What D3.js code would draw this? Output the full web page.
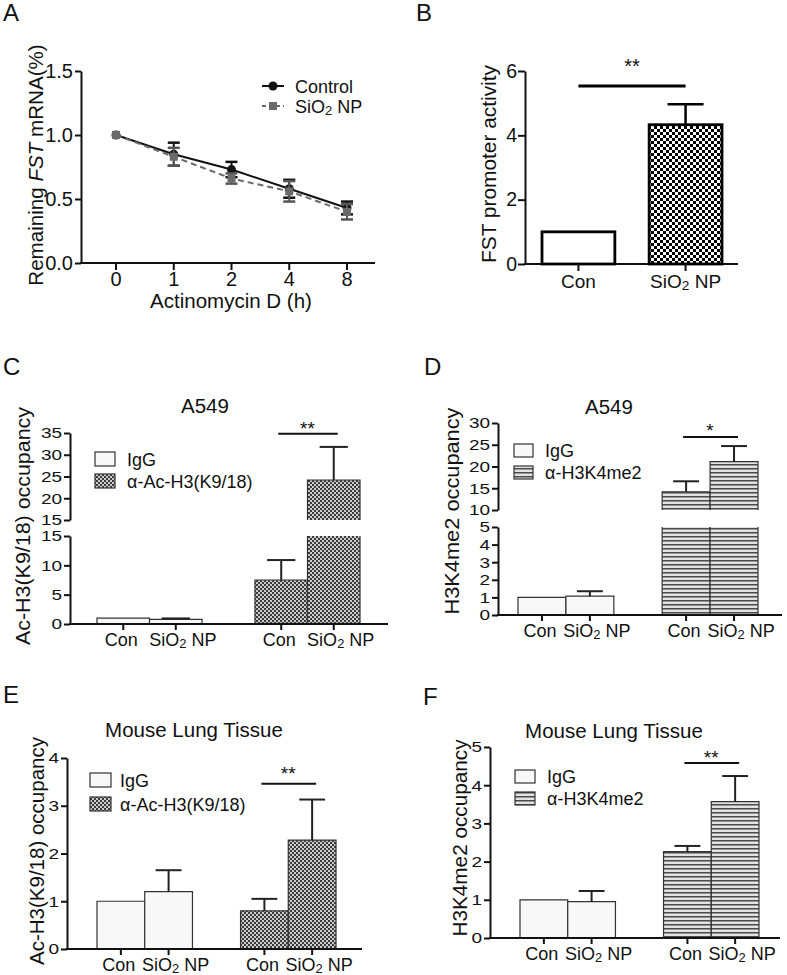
<!DOCTYPE html>
<html><head><meta charset="utf-8">
<script src="https://cdn.jsdelivr.net/npm/d3@7"></script>
<style>body{margin:0;background:#fff}</style>
</head><body><script>
// ---------------- DATA ----------------
const hours = ["0","1","2","4","8"];
const controlMean = [1.0, 0.85, 0.73, 0.58, 0.43];
const controlErr  = [0, 0.09, 0.06, 0.07, 0.05];
const sio2Mean    = [1.0, 0.83, 0.66, 0.56, 0.40];
const sio2Err     = [0, 0.07, 0.04, 0.08, 0.06];
const seriesNames = ["Control", "SiO2 NP"];

const promoterGroups = ["Con", "SiO2 NP"];
const promoterMean = [1.0, 4.33];
const promoterErr  = [0, 0.64];

const treatments = ["Con", "SiO2 NP"];
const legendAc = ["IgG", "α-Ac-H3(K9/18)"];
const legendMe = ["IgG", "α-H3K4me2"];
const antibodyGroups = ["IgG", "anti"];

const a549AcMean = [[1.0, 0.8], [7.5, 24.2]];
const a549AcErr  = [[0, 0.15], [3.4, 7.6]];
const a549MeMean = [[1.0, 1.07], [14.2, 21.1]];
const a549MeErr  = [[0, 0.28], [2.4, 3.6]];
const lungAcMean = [[1.0, 1.2], [0.8, 2.28]];
const lungAcErr  = [[0, 0.45], [0.25, 0.85]];
const lungMeMean = [[1.0, 0.95], [2.26, 3.57]];
const lungMeErr  = [[0, 0.28], [0.15, 0.67]];

const sigLevels = {B: 5.53, C: 34.8, D: 26.8, E: 3.46, F: 4.58};
const sigMarks  = {B: "**", C: "**", D: "*", E: "**", F: "**"};

const ticksA = [0, 0.5, 1.0, 1.5];
const ticksB = [0, 2, 4, 6];
const ticksCLow = [0, 5, 10, 15], ticksCHigh = [15, 20, 25, 30, 35];
const ticksDLow = [0, 1, 2, 3, 4, 5], ticksDHigh = [10, 15, 20, 25, 30];
const ticksE = [0, 1, 2, 3, 4];
const ticksF = [0, 1, 2, 3, 4, 5];

// ---------------- SETUP ----------------
const fam = '"Liberation Sans", Arial, Helvetica, sans-serif';
const INK = "#111";
const intFmt = d3.format("d");
const svg = d3.select("body").append("svg").attr("width", 787).attr("height", 975)
  .style("font-family", fam).style("background", "#fff");

const defs = svg.append("defs");
const pB = defs.append("pattern").attr("id", "checkBig").attr("patternUnits", "userSpaceOnUse").attr("width", 6).attr("height", 6);
pB.append("rect").attr("width", 6).attr("height", 6).attr("fill", "#fff");
pB.append("rect").attr("width", 3).attr("height", 3).attr("fill", "#000");
pB.append("rect").attr("x", 3).attr("y", 3).attr("width", 3).attr("height", 3).attr("fill", "#000");
const pF = defs.append("pattern").attr("id", "checkFine").attr("patternUnits", "userSpaceOnUse").attr("width", 4).attr("height", 4);
pF.append("rect").attr("width", 4).attr("height", 4).attr("fill", "#cdcdcd");
pF.append("rect").attr("width", 2).attr("height", 2).attr("fill", "#3a3a3a");
pF.append("rect").attr("x", 2).attr("y", 2).attr("width", 2).attr("height", 2).attr("fill", "#3a3a3a");
const pS = defs.append("pattern").attr("id", "stripes").attr("patternUnits", "userSpaceOnUse").attr("width", 4).attr("height", 4);
pS.append("rect").attr("width", 4).attr("height", 4).attr("fill", "#e2e2e2");
pS.append("rect").attr("width", 4).attr("height", 1.5).attr("fill", "#4a4a4a");

function sub2(sel, str) {
  const i = str.indexOf("SiO2");
  if (i < 0) { sel.text(str); return sel; }
  sel.text(null);
  sel.append("tspan").text(str.slice(0, i + 3));
  sel.append("tspan").attr("font-size", "72%").attr("dy", 2).text("2");
  sel.append("tspan").attr("dy", -2).text(str.slice(i + 4));
  return sel;
}
function styleAxis(g, fs, squash) {
  g.attr("font-family", null).attr("font-size", null);
  g.select(".domain").attr("stroke", INK).attr("stroke-width", 2);
  g.selectAll(".tick line").attr("stroke", INK).attr("stroke-width", 2);
  const t = g.selectAll(".tick text").attr("font-size", fs).attr("fill", INK).style("font-family", fam);
  if (squash) t.attr("transform", "scale(1,0.8)");
}
function letter(t, x, y) {
  svg.append("text").attr("x", x).attr("y", y).attr("font-size", 24).attr("fill", INK).text(t);
}
function yTitle(txt, x, y, len) {
  svg.append("text").attr("transform", `translate(${x},${y}) rotate(-90)`).attr("text-anchor", "middle")
    .attr("font-size", 20).attr("fill", INK).attr("textLength", len).attr("lengthAdjust", "spacingAndGlyphs").text(txt);
}

// ---------------- PANEL A ----------------
letter("A", 3, 21);
const xA = d3.scalePoint().domain(hours).range([116, 347]);
const yA = d3.scaleLinear().domain([0, 1.5]).range([263, 71]);
const gA = svg.append("g");
gA.append("g").attr("transform", "translate(81,0)")
  .call(d3.axisLeft(yA).tickValues(ticksA).tickFormat(d3.format(".1f")).tickSize(6).tickSizeOuter(0).tickPadding(2))
  .call(g => styleAxis(g, 20, false));
gA.append("line").attr("x1", 80).attr("x2", 375).attr("y1", 263).attr("y2", 263).attr("stroke", INK).attr("stroke-width", 2);
hours.forEach(h => {
  gA.append("line").attr("x1", xA(h)).attr("x2", xA(h)).attr("y1", 263).attr("y2", 270).attr("stroke", INK).attr("stroke-width", 2);
  gA.append("text").attr("x", xA(h)).attr("y", 286).attr("text-anchor", "middle").attr("font-size", 20).attr("fill", INK).text(h);
});
function errA(means, errs, color) {
  means.forEach((m, i) => {
    if (!errs[i]) return;
    const x = xA(hours[i]), y1 = yA(m - errs[i]), y2 = yA(m + errs[i]);
    gA.append("line").attr("x1", x).attr("x2", x).attr("y1", y1).attr("y2", y2).attr("stroke", color).attr("stroke-width", 2);
    [y1, y2].forEach(y => gA.append("line").attr("x1", x - 6).attr("x2", x + 6).attr("y1", y).attr("y2", y).attr("stroke", color).attr("stroke-width", 2.5));
  });
}
const lineA = d3.line().x((d, i) => xA(hours[i])).y(d => yA(d));
gA.append("path").datum(controlMean).attr("d", lineA).attr("fill", "none").attr("stroke", "#111").attr("stroke-width", 2);
errA(controlMean, controlErr, "#111");
controlMean.forEach((m, i) => gA.append("circle").attr("cx", xA(hours[i])).attr("cy", yA(m)).attr("r", 4.5).attr("fill", "#111"));
gA.append("path").datum(sio2Mean).attr("d", lineA).attr("fill", "none").attr("stroke", "#6a6a6a").attr("stroke-width", 2).attr("stroke-dasharray", "6,4");
errA(sio2Mean, sio2Err, "#555");
sio2Mean.forEach((m, i) => gA.append("rect").attr("x", xA(hours[i]) - 4).attr("y", yA(m) - 4).attr("width", 8).attr("height", 8).attr("fill", "#6a6a6a"));
// legend A
gA.append("line").attr("x1", 262).attr("x2", 284).attr("y1", 86).attr("y2", 86).attr("stroke", "#111").attr("stroke-width", 2);
gA.append("circle").attr("cx", 273).attr("cy", 86).attr("r", 4.5).attr("fill", "#111");
gA.append("text").attr("x", 295).attr("y", 92.5).attr("font-size", 18).attr("fill", INK).text(seriesNames[0]);
gA.append("line").attr("x1", 262).attr("x2", 284).attr("y1", 106).attr("y2", 106).attr("stroke", "#6a6a6a").attr("stroke-width", 2).attr("stroke-dasharray", "4,3");
gA.append("rect").attr("x", 269).attr("y", 102).attr("width", 8).attr("height", 8).attr("fill", "#6a6a6a");
sub2(gA.append("text").attr("x", 295).attr("y", 112.5).attr("font-size", 18).attr("fill", INK), seriesNames[1]);
// titles A
const ta = svg.append("text").attr("transform", "translate(43,165) rotate(-90)").attr("text-anchor", "middle").attr("font-size", 20.6).attr("fill", INK);
ta.append("tspan").text("Remaining ");
ta.append("tspan").attr("font-style", "italic").text("FST");
ta.append("tspan").text(" mRNA(%)");
svg.append("text").attr("x", 231).attr("y", 308).attr("text-anchor", "middle").attr("font-size", 20.5).attr("fill", INK).text("Actinomycin D (h)");

// ---------------- PANEL B ----------------
letter("B", 416, 21);
const xB = d3.scaleBand().domain(promoterGroups).range([542, 722]).paddingInner(0.32);
const yB = d3.scaleLinear().domain([0, 6]).range([264, 71]);
const gB = svg.append("g");
gB.append("g").attr("transform", "translate(525,0)")
  .call(d3.axisLeft(yB).tickValues(ticksB).tickFormat(intFmt).tickSize(7).tickSizeOuter(0).tickPadding(1))
  .call(g => styleAxis(g, 19.5, false));
gB.append("line").attr("x1", 524).attr("x2", 738).attr("y1", 264).attr("y2", 264).attr("stroke", INK).attr("stroke-width", 2);
promoterGroups.forEach((c, i) => {
  const x = xB(c), w = xB.bandwidth(), v = promoterMean[i];
  gB.append("rect").attr("x", x).attr("y", yB(v)).attr("width", w).attr("height", yB(0) - yB(v))
    .attr("fill", i === 0 ? "#fff" : "url(#checkBig)").attr("stroke", "#000").attr("stroke-width", 2.8);
  if (promoterErr[i]) {
    const cx = x + w / 2;
    gB.append("line").attr("x1", cx).attr("x2", cx).attr("y1", yB(v)).attr("y2", yB(v + promoterErr[i])).attr("stroke", "#000").attr("stroke-width", 2.5);
    gB.append("line").attr("x1", cx - 18).attr("x2", cx + 18).attr("y1", yB(v + promoterErr[i])).attr("y2", yB(v + promoterErr[i])).attr("stroke", "#000").attr("stroke-width", 2.5);
  }
  gB.append("line").attr("x1", x + w / 2).attr("x2", x + w / 2).attr("y1", 264).attr("y2", 271).attr("stroke", INK).attr("stroke-width", 2);
  sub2(gB.append("text").attr("x", x + w / 2).attr("y", 288).attr("text-anchor", "middle").attr("font-size", 19).attr("fill", INK), c);
});
{
  const x1 = xB(promoterGroups[0]) + xB.bandwidth() / 2, x2 = xB(promoterGroups[1]) + xB.bandwidth() / 2;
  gB.append("line").attr("x1", x1).attr("x2", x2).attr("y1", yB(sigLevels.B)).attr("y2", yB(sigLevels.B)).attr("stroke", "#000").attr("stroke-width", 3);
  gB.append("text").attr("x", (x1 + x2) / 2).attr("y", 73).attr("text-anchor", "middle").attr("font-size", 20).attr("fill", INK).text(sigMarks.B);
}
yTitle("FST promoter activity", 496, 164, 198);

// ---------------- BAR PANELS C-F ----------------
function barPanel(o) {
  const g = svg.append("g");
  const segs = o.segments.map(s => Object.assign({}, s, {scale: d3.scaleLinear().domain(s.domain).range(s.range)}));
  const base = segs[0].range[0];
  const outer = d3.scaleBand().domain(antibodyGroups).range(o.xRange).paddingInner(0.335);
  const inner = d3.scaleBand().domain(treatments).range([0, outer.bandwidth()]);
  const w = inner.bandwidth();
  const segFor = v => segs.find(s => v <= s.domain[1]) || segs[segs.length - 1];
  // axes
  segs.forEach(s => {
    g.append("g").attr("transform", `translate(${o.axisX},0)`)
      .call(d3.axisLeft(s.scale).tickValues(s.ticks).tickFormat(intFmt).tickSize(6).tickSizeOuter(0).tickPadding(2))
      .call(a => styleAxis(a, 19, true));
  });
  // bars
  const centers = [];
  antibodyGroups.forEach((grp, gi) => {
    treatments.forEach((t, ti) => {
      const v = o.means[gi][ti], e = o.errs[gi][ti];
      const x0 = outer(grp) + inner(t), cx = x0 + w / 2;
      centers.push([gi, cx, t, ti]);
      const fill = gi === 0 ? "#f8f8f8" : `url(#${o.pattern})`;
      segs.forEach((s, si) => {
        if (si > 0 && v <= s.domain[0]) return;
        const top = Math.min(v, s.domain[1]);
        const yT = s.scale(top), yBt = s.scale(s.domain[0]);
        g.append("rect").attr("x", x0).attr("y", yT).attr("width", w).attr("height", yBt - yT).attr("fill", fill);
        const closed = v <= s.domain[1];
        const d = closed ? `M${x0},${yBt}V${yT}H${x0 + w}V${yBt}` : `M${x0},${yBt}V${yT}M${x0 + w},${yT}V${yBt}`;
        g.append("path").attr("d", d).attr("fill", "none").attr("stroke", "#333").attr("stroke-width", 1.2);
      });
      if (e) {
        const s = segFor(v);
        const y1 = s.scale(v), y2 = s.scale(v + e);
        g.append("line").attr("x1", cx).attr("x2", cx).attr("y1", y1).attr("y2", y2).attr("stroke", "#222").attr("stroke-width", 2);
        g.append("line").attr("x1", cx - w / 4 - 1).attr("x2", cx + w / 4 + 1).attr("y1", y2).attr("y2", y2).attr("stroke", "#222").attr("stroke-width", 2);
      }
    });
  });
  // x axis
  g.append("line").attr("x1", o.axisX - 1).attr("x2", o.axisEnd).attr("y1", base).attr("y2", base).attr("stroke", INK).attr("stroke-width", 2);
  centers.forEach(([gi, cx, t, ti]) => {
    g.append("line").attr("x1", cx).attr("x2", cx).attr("y1", base).attr("y2", base + 6).attr("stroke", INK).attr("stroke-width", 2);
    sub2(g.append("text").attr("x", cx + (ti === 1 ? 7 : -2)).attr("y", base + 22).attr("text-anchor", "middle").attr("font-size", 18).attr("fill", INK), t);
  });
  // significance
  const c1 = centers[2][1], c2 = centers[3][1];
  const ss = segFor(o.sig);
  const ys = ss.scale(o.sig);
  g.append("line").attr("x1", c1 - 3).attr("x2", c2 + 4).attr("y1", ys).attr("y2", ys).attr("stroke", "#111").attr("stroke-width", 2);
  g.append("text").attr("x", (c1 + c2) / 2).attr("y", o.sigBase).attr("text-anchor", "middle").attr("font-size", 19).attr("fill", INK).text(o.sigMark);
  // legend
  o.legend.forEach((lab, i) => {
    const y = o.legendY[i];
    g.append("rect").attr("x", o.legendX).attr("y", y).attr("width", o.legendW).attr("height", o.legendH)
      .attr("fill", i === 0 ? "#f8f8f8" : `url(#${o.pattern})`).attr("stroke", "#333").attr("stroke-width", 1.2);
    g.append("text").attr("x", o.legendTextX).attr("y", y + o.legendH).attr("font-size", 18).attr("fill", INK).text(lab);
  });
  // title
  g.append("text").attr("x", o.title[1]).attr("y", o.title[2]).attr("text-anchor", "middle").attr("font-size", 20.5).attr("fill", INK).text(o.title[0]);
  yTitle(o.yTitle[0], o.yTitle[1], o.yTitle[2], o.yTitle[3]);
}

letter("C", 3, 375);
barPanel({
  means: a549AcMean, errs: a549AcErr, pattern: "checkFine",
  axisX: 70, axisEnd: 388, xRange: [97, 360],
  segments: [{domain: [0, 15], range: [624, 536], ticks: ticksCLow}, {domain: [15, 35], range: [520, 433], ticks: ticksCHigh}],
  sig: sigLevels.C, sigMark: sigMarks.C, sigBase: 435,
  legend: legendAc, legendX: 95, legendY: [452, 474], legendW: 20, legendH: 14, legendTextX: 127,
  title: ["A549", 205, 413], yTitle: ["Ac-H3(K9/18) occupancy", 30, 526, 238]
});

letter("D", 424, 375);
barPanel({
  means: a549MeMean, errs: a549MeErr, pattern: "stripes",
  axisX: 498, axisEnd: 782, xRange: [518, 758],
  segments: [{domain: [0, 5], range: [615, 527], ticks: ticksDLow}, {domain: [10, 30], range: [510, 423], ticks: ticksDHigh}],
  sig: sigLevels.D, sigMark: sigMarks.D, sigBase: 437,
  legend: legendMe, legendX: 514, legendY: [444, 466], legendW: 19, legendH: 13, legendTextX: 545,
  title: ["A549", 609, 414], yTitle: ["H3K4me2 occupancy", 459, 511, 207]
});

letter("E", 3, 703);
barPanel({
  means: lungAcMean, errs: lungAcErr, pattern: "checkFine",
  axisX: 67, axisEnd: 362, xRange: [97, 336],
  segments: [{domain: [0, 4], range: [949, 758], ticks: ticksE}],
  sig: sigLevels.E, sigMark: sigMarks.E, sigBase: 780,
  legend: legendAc, legendX: 90, legendY: [773, 797], legendW: 21, legendH: 14, legendTextX: 120,
  title: ["Mouse Lung Tissue", 194, 737], yTitle: ["Ac-H3(K9/18) occupancy", 44, 851, 228]
});

letter("F", 423, 705);
barPanel({
  means: lungMeMean, errs: lungMeErr, pattern: "stripes",
  axisX: 490, axisEnd: 780, xRange: [520, 759],
  segments: [{domain: [0, 5], range: [938, 747], ticks: ticksF}],
  sig: sigLevels.F, sigMark: sigMarks.F, sigBase: 764,
  legend: legendMe, legendX: 515, legendY: [770, 792], legendW: 20, legendH: 13, legendTextX: 547,
  title: ["Mouse Lung Tissue", 614, 738], yTitle: ["H3K4me2 occupancy", 467, 838, 197]
});
</script></body></html>
